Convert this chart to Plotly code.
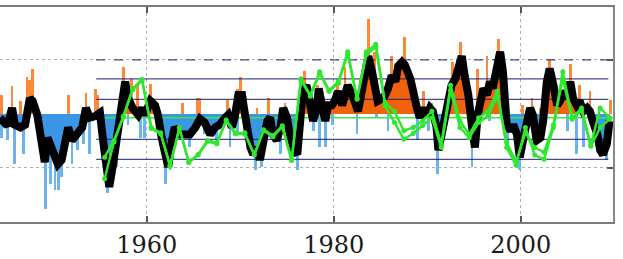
import numpy as np
import plotly.graph_objects as go

# ---------------- data ----------------
# smoothed anomaly (thick black curve)
black_year = [1944.3, 1945.1, 1945.6, 1945.9, 1946.5, 1947.0, 1947.5, 1947.8, 1948.3, 1948.8,
              1949.1, 1949.4, 1950.0, 1950.5, 1950.9, 1951.3, 1951.6, 1952.0, 1952.5, 1953.1,
              1953.5, 1953.9, 1954.5, 1955.0, 1955.3, 1955.8, 1956.0, 1956.4, 1956.9, 1957.4,
              1957.7, 1958.0, 1958.5, 1959.1, 1959.5, 1959.8, 1960.4, 1960.9, 1961.2, 1961.6,
              1962.0, 1962.3, 1962.7, 1963.0, 1963.6, 1964.1, 1964.6, 1965.2, 1965.7, 1966.2,
              1966.8, 1967.3, 1967.8, 1968.4, 1968.7, 1969.1, 1969.4, 1969.8, 1970.2, 1970.4,
              1970.7, 1971.1, 1971.4, 1971.8, 1972.1, 1972.4, 1972.9, 1973.2, 1973.5, 1973.9,
              1974.3, 1974.6, 1975.0, 1975.3, 1975.7, 1976.1, 1976.4, 1976.7, 1977.1, 1977.5,
              1977.8, 1978.2, 1978.4, 1978.8, 1979.1, 1979.4, 1979.8, 1980.1, 1980.5, 1980.9,
              1981.2, 1981.5, 1982.0, 1982.3, 1982.6, 1983.0, 1983.4, 1983.7, 1984.1, 1984.4,
              1984.7, 1985.2, 1985.5, 1985.8, 1986.2, 1986.6, 1986.9, 1987.3, 1987.6, 1988.2,
              1988.5, 1988.9, 1989.2, 1989.6, 1990.0, 1990.3, 1990.6, 1991.0, 1991.2, 1991.6,
              1991.9, 1992.2, 1992.6, 1993.0, 1993.3, 1993.7, 1994.0, 1994.4, 1994.8, 1995.1,
              1995.4, 1995.7, 1996.0, 1996.4, 1996.7, 1997.0, 1997.5, 1997.8, 1998.1, 1998.3,
              1998.5, 1998.9, 1999.2, 1999.6, 1999.9, 2000.3, 2000.7, 2001.0, 2001.3, 2001.7,
              2002.1, 2002.4, 2002.8, 2003.1, 2003.5, 2003.9, 2004.2, 2004.5, 2005.0, 2005.3,
              2005.6, 2006.0, 2006.3, 2006.7, 2007.1, 2007.4, 2007.7, 2008.2, 2008.5, 2008.8,
              2009.2, 2009.5]
black_val = [-0.07, -0.22, 0.11, -0.20, -0.25, -0.20, 0.29, 0.24, -0.02, -0.56,
             -0.89, -0.44, -0.67, -0.93, -0.85, -0.56, -0.25, -0.49, -0.38, -0.25,
             0.11, -0.07, -0.04, 0.02, -0.44, -1.16, -1.35, -0.93, -0.31, 0.35,
             0.60, 0.29, 0.11, -0.02, 0.11, -0.02, 0.24, 0.16, -0.02, -0.44,
             -0.85, -0.98, -0.49, -0.25, -0.38, -0.38, -0.38, -0.25, -0.09, -0.16,
             -0.38, -0.25, -0.20, -0.07, -0.02, -0.25, -0.07, 0.35, 0.35, 0.11,
             -0.25, -0.62, -0.75, -0.62, -0.85, -0.49, -0.13, -0.07, -0.38, -0.49,
             -0.25, 0.11, -0.07, -0.38, -0.67, -0.75, -0.25, 0.42, 0.53, 0.24,
             -0.13, 0.11, 0.47, 0.11, -0.13, 0.16, 0.16, 0.24, 0.42, 0.16,
             0.42, 0.53, 0.35, 0.24, 0.05, 0.42, 0.84, 1.07, 0.78, 0.53,
             0.24, 0.29, 0.35, 0.47, 0.71, 0.60, 0.89, 0.96, 0.91, 0.65,
             0.35, 0.11, -0.07, 0.11, -0.02, 0.11, 0.05, -0.25, -0.67, -0.31,
             0.05, 0.24, 0.53, 0.65, 0.89, 1.07, 0.71, 0.35, -0.25, -0.62,
             -0.02, 0.35, 0.47, 0.35, 0.60, 0.47, 0.96, 1.15, 0.78, 0.16,
             -0.20, -0.31, -0.20, -0.38, -0.80, -0.44, -0.20, 0.11, -0.02, -0.49,
             -0.44, -0.13, 0.60, 0.84, 0.53, 0.16, 0.24, 0.42, 0.29, 0.60,
             0.29, 0.16, 0.24, 0.05, 0.11, 0.05, -0.13, -0.38, -0.67, -0.75,
             -0.56, -0.13]

# monthly spikes (bars)
pos_year = [1944.5, 1945.6, 1946.5, 1947.2, 1947.5, 1947.8, 1951.6, 1953.5, 1954.5, 1954.8,
            1957.5, 1958.4, 1959.0, 1960.4, 1960.7, 1963.8, 1965.4, 1965.7, 1968.6, 1969.7,
            1970.0, 1971.8, 1973.0, 1974.8, 1976.9, 1978.3, 1980.4, 1981.2, 1983.7, 1984.4,
            1985.7, 1986.2, 1987.3, 1987.6, 1988.4, 1989.6, 1990.5, 1992.7, 1993.6, 1995.4,
            1996.4, 1997.6, 2000.2, 2001.2, 2002.1, 2003.1, 2003.5, 2005.3, 2006.3, 2007.4,
            2009.6]
pos_val = [0.35, 0.51, 0.24, 0.69, 0.62, 0.84, 0.35, 0.38, 0.47, 0.35,
           0.87, 0.65, 0.53, 0.56, 0.29, 0.20, 0.29, 0.29, 0.25, 0.47,
           0.69, 0.11, 0.29, 0.20, 0.80, 0.53, 0.65, 0.87, 1.75, 1.15,
           0.53, 1.07, 1.07, 1.42, 0.71, 0.42, 0.20, 0.96, 1.33, 0.84,
           1.07, 1.38, 0.16, 0.29, 0.11, 1.02, 0.65, 0.93, 0.53, 0.42,
           0.25]
neg_year = [1944.5, 1945.1, 1945.9, 1946.8, 1949.2, 1949.7, 1950.2, 1950.6, 1950.9, 1952.0,
            1952.6, 1953.2, 1953.9, 1955.8, 1956.1, 1956.8, 1958.0, 1959.3, 1959.8, 1962.0,
            1962.5, 1964.6, 1966.2, 1967.5, 1968.9, 1969.7, 1971.6, 1972.3, 1974.3, 1976.1,
            1977.8, 1978.5, 1979.1, 1979.9, 1982.5, 1984.6, 1985.8, 1989.0, 1990.1, 1991.1,
            1994.8, 1996.7, 1998.6, 1999.9, 2005.0, 2006.0, 2006.7, 2008.5, 2009.2]
neg_val = [-0.44, -0.49, -0.93, -0.75, -1.76, -1.29, -1.40, -1.40, -1.16, -0.93,
           -0.67, -0.56, -0.75, -1.47, -1.22, -0.98, -0.20, -0.44, -0.44, -1.29,
           -1.04, -0.62, -0.38, -0.49, -0.62, -0.38, -1.04, -0.98, -0.75, -1.04,
           -0.31, -0.62, -0.62, -0.20, -0.38, -0.07, -0.31, -0.49, -0.31, -1.11,
           -0.98, -0.13, -0.62, -1.04, -0.31, -0.75, -0.62, -0.80, -0.85]

# annual series (green)
green_year = [1955.5, 1956.5, 1957.5, 1958.5, 1959.5, 1960.5, 1961.5, 1962.5, 1963.5, 1964.5,
              1965.5, 1966.5, 1967.5, 1968.5, 1969.5, 1970.5, 1971.5, 1972.5, 1973.5, 1974.5,
              1975.5, 1976.5, 1977.5, 1978.5, 1979.5, 1980.5, 1981.5, 1982.5, 1983.5, 1984.5,
              1985.5, 1986.5, 1987.5, 1988.5, 1989.5, 1990.5, 1991.5, 1992.5, 1993.5, 1994.5,
              1995.5, 1996.5, 1997.5, 1998.5, 1999.5, 2000.5, 2001.5, 2002.5, 2003.5, 2004.5,
              2005.5, 2006.5, 2007.5, 2008.5, 2009.5]
green_a = [-0.80, -0.49, -0.04, 0.47, 0.64, -0.25, -0.35, -0.95, -0.25, -0.89,
           -0.75, -0.49, -0.53, -0.11, -0.35, -0.35, -0.75, -0.29, -0.40, -0.22,
           -0.84, 0.65, 0.35, 0.78, 0.44, 0.60, 1.15, 0.29, 1.15, 1.29,
           0.20, 0.05, -0.31, -0.25, -0.13, 0.05, -0.56, 0.53, -0.13, -0.38,
           -0.07, 0.05, 0.42, -0.62, -0.95, -0.25, -0.76, -0.84, -0.25, 0.78,
           -0.07, 0.11, -0.58, 0.11, -0.07]
green_b = [-1.20, -0.52, -0.06, 0.45, 0.62, -0.27, -0.37, -0.97, -0.27, -0.90,
           -0.76, -0.51, -0.55, -0.13, -0.37, -0.37, -0.76, -0.31, -0.42, -0.24,
           -0.86, 0.62, 0.33, 0.75, 0.42, 0.57, 1.11, 0.27, 1.10, 1.24,
           0.15, -0.16, -0.47, -0.36, -0.22, -0.07, -0.62, 0.44, -0.25, -0.44,
           -0.16, -0.04, 0.33, -0.53, -0.89, -0.35, -0.62, -0.71, -0.20, 0.65,
           -0.10, 0.06, -0.60, -0.25, -0.10]
green_base = -0.07

# reference levels (thin navy lines)
ref_levels = [1.0, 0.65, 0.27, -0.47, -0.84]
ref_start = 1954.6

x_range = [1944.31, 2009.87]
y_range = [-2.0, 1.98]
xticks = [1960, 1980, 2000]

# ---------------- helpers ----------------
def split_sign(xs, ys):
    """add zero-crossing points so fills split cleanly at zero"""
    xo, yo = [xs[0]], [ys[0]]
    for i in range(1, len(xs)):
        y0, y1 = ys[i - 1], ys[i]
        if y0 * y1 < 0:
            t = y0 / (y0 - y1)
            xo.append(xs[i - 1] + t * (xs[i] - xs[i - 1]))
            yo.append(0.0)
        xo.append(xs[i])
        yo.append(ys[i])
    return xo, yo

fx, fy = split_sign(black_year, black_val)
fpos = [max(v, 0.0) for v in fy]
fneg = [min(v, 0.0) for v in fy]

fig = go.Figure()

# spikes
fig.add_trace(go.Bar(x=pos_year, y=pos_val, base=0, width=0.3,
                     marker=dict(color="#ff8838", line=dict(width=0))))
fig.add_trace(go.Bar(x=neg_year, y=neg_val, base=0, width=0.3,
                     marker=dict(color="#6cb4f0", line=dict(width=0))))

# filled areas (closed polygons to zero)
fig.add_trace(go.Scatter(x=[fx[0]] + fx + [fx[-1]], y=[0] + fpos + [0], mode="lines",
                         fill="toself", fillcolor="#f2620c",
                         line=dict(width=0, color="#f2620c")))
fig.add_trace(go.Scatter(x=[fx[0]] + fx + [fx[-1]], y=[0] + fneg + [0], mode="lines",
                         fill="toself", fillcolor="#3b97e6",
                         line=dict(width=0, color="#3b97e6")))

# reference lines
for i, lv in enumerate(ref_levels):
    fig.add_trace(go.Scatter(x=[ref_start, x_range[1] - 0.5], y=[lv, lv], mode="lines",
                             line=dict(color="rgba(28,28,120,0.8)", width=1.2,
                                       dash="dash" if i == 0 else "solid")))

# green baseline
fig.add_trace(go.Scatter(x=[green_year[0], x_range[1]], y=[green_base, green_base],
                         mode="lines", line=dict(color="#3ee63e", width=1.5)))

# smoothed curve
fig.add_trace(go.Scatter(x=black_year, y=black_val, mode="lines",
                         line=dict(color="#000000", width=8)))

# green annual series
for ser in (green_b, green_a):
    fig.add_trace(go.Scatter(x=green_year, y=ser, mode="lines+markers",
                             line=dict(color="#2ee82e", width=2.4),
                             marker=dict(color="#2ee82e", size=5)))

fig.update_layout(
    width=623, height=259,
    margin=dict(l=0, r=10, t=7, b=33),
    paper_bgcolor="white", plot_bgcolor="white",
    showlegend=False, barmode="overlay", bargap=0,
    xaxis=dict(range=x_range, tickvals=xticks, ticktext=[str(t) for t in xticks],
               showgrid=True, gridcolor="#b0b0b0", griddash="dot", gridwidth=1.2,
               showline=True, linecolor="#7a7a7a", linewidth=1.5, mirror="ticks",
               ticks="inside", ticklen=6, tickcolor="#555", tickwidth=1.5,
               tickfont=dict(family="DejaVu Serif", size=24, color="#1a1a1a"),
               zeroline=False, fixedrange=True),
    yaxis=dict(range=y_range, tickvals=[-1, 1], showticklabels=False,
               showgrid=True, gridcolor="#b0b0b0", griddash="dot", gridwidth=1.2,
               showline=True, linecolor="#8a8a8a", linewidth=2, side="right", mirror=False,
               ticks="inside", ticklen=6, tickcolor="#555", tickwidth=1.5,
               zeroline=False, fixedrange=True),
)

fig.write_html("out.html")
